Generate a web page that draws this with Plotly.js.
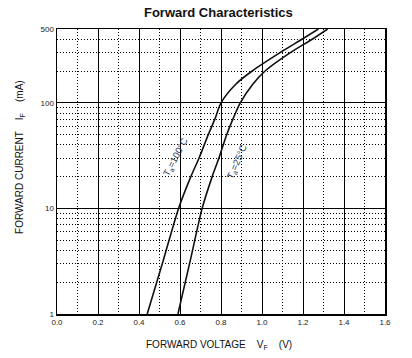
<!DOCTYPE html>
<html>
<head>
<meta charset="utf-8">
<script src="https://cdn.plot.ly/plotly-3.0.1.min.js"></script>
<style>html,body{margin:0;padding:0;background:#fff;}#chart{width:412px;height:358px;}</style>
</head>
<body>
<div id="chart"></div>
<script>
// Forward characteristics
const v100 = [0.440, 0.518, 0.593, 0.653, 0.693, 0.738, 0.770, 0.800, 0.872, 0.952, 1.090, 1.195, 1.275];
const i100 = [1, 3.2, 10, 20, 30, 50, 70, 100, 150, 200, 300, 400, 500];
const v25 = [0.590, 0.650, 0.708, 0.757, 0.790, 0.828, 0.858, 0.894, 0.955, 1.015, 1.140, 1.245, 1.320];
const i25 = [1, 3.2, 10, 20, 30, 50, 70, 100, 150, 200, 300, 400, 500];
const xTicks = [0, 0.2, 0.4, 0.6, 0.8, 1.0, 1.2, 1.4, 1.6];
const xTickText = ['0.0', '0.2', '0.4', '0.6', '0.8', '1.0', '1.2', '1.4', '1.6'];
const yTicks = [1, 10, 100, 500];
const yTickText = ['1', '10', '100', '500'];
const yMinor = [2, 3, 4, 5, 6, 7, 8, 9, 20, 30, 40, 50, 60, 70, 80, 90, 200, 300, 400];
const xMinor = [0.1, 0.3, 0.5, 0.7, 0.9, 1.1, 1.3, 1.5];
const labels = [
  {text: 'T<sub>a</sub>=100°C', x: 0.580, y: 30.5, angle: -62},
  {text: 'T<sub>a</sub>=25°C', x: 0.878, y: 27.5, angle: -66}
];
const xTitle = 'FORWARD VOLTAGE    V<sub>F</sub>    (V)';
const yTitle = 'FORWARD CURRENT    I<sub>F</sub>    (mA)';

const font = 'Liberation Sans, Arial, sans-serif';
const lineStyle = {color: '#111', width: 1.6, shape: 'spline', smoothing: 0.8};

const data = [
  {x: v100, y: i100, mode: 'lines', line: lineStyle, hoverinfo: 'skip'},
  {x: v25, y: i25, mode: 'lines', line: lineStyle, hoverinfo: 'skip'}
];

const annotations = labels.map(l => ({
  x: l.x, y: Math.log10(l.y), xref: 'x', yref: 'y', text: l.text, showarrow: false,
  textangle: l.angle, font: {family: font, size: 9.5, color: '#2a3550'}
}));
annotations.push({
  x: 0.494, y: -0.109, xref: 'paper', yref: 'paper', text: xTitle, showarrow: false,
  xanchor: 'center', yanchor: 'middle', font: {family: font, size: 10, color: '#111'}
});
annotations.push({
  x: -0.113, y: 0.551, xref: 'paper', yref: 'paper', text: yTitle, showarrow: false,
  textangle: -90, xanchor: 'center', yanchor: 'middle', font: {family: font, size: 10, color: '#111'}
});

const layout = {
  width: 412, height: 358,
  margin: {l: 57, r: 27, t: 29, b: 44},
  paper_bgcolor: '#fff', plot_bgcolor: '#fff',
  showlegend: false,
  font: {family: font, color: '#000'},
  title: {text: '<b>Forward Characteristics</b>', font: {family: font, size: 13, color: '#111'}, x: 0.53, xanchor: 'center', y: 0.965, yanchor: 'middle'},
  xaxis: {
    range: [0, 1.6], tickvals: xTicks, ticktext: xTickText,
    tickfont: {family: font, size: 8, color: '#222'},
    ticks: '', showgrid: true, gridcolor: '#000', gridwidth: 1,
    showline: true, mirror: true, linecolor: '#000', linewidth: 1.5,
    zeroline: false,
    minor: {tickvals: xMinor, showgrid: true, gridcolor: '#000', griddash: '1px,2px', gridwidth: 1, ticks: ''}
  },
  yaxis: {
    type: 'log', range: [0, Math.log10(500)], tickvals: yTicks, ticktext: yTickText,
    tickfont: {family: font, size: 8, color: '#222'},
    ticks: '', showgrid: true, gridcolor: '#000', gridwidth: 1,
    showline: true, mirror: true, linecolor: '#000', linewidth: 1.5,
    zeroline: false,
    minor: {tickvals: yMinor, showgrid: true, gridcolor: '#000', griddash: '1px,2px', gridwidth: 1, ticks: ''}
  },
  annotations: annotations
};

Plotly.newPlot('chart', data, layout, {staticPlot: true, displayModeBar: false});
</script>
</body>
</html>
